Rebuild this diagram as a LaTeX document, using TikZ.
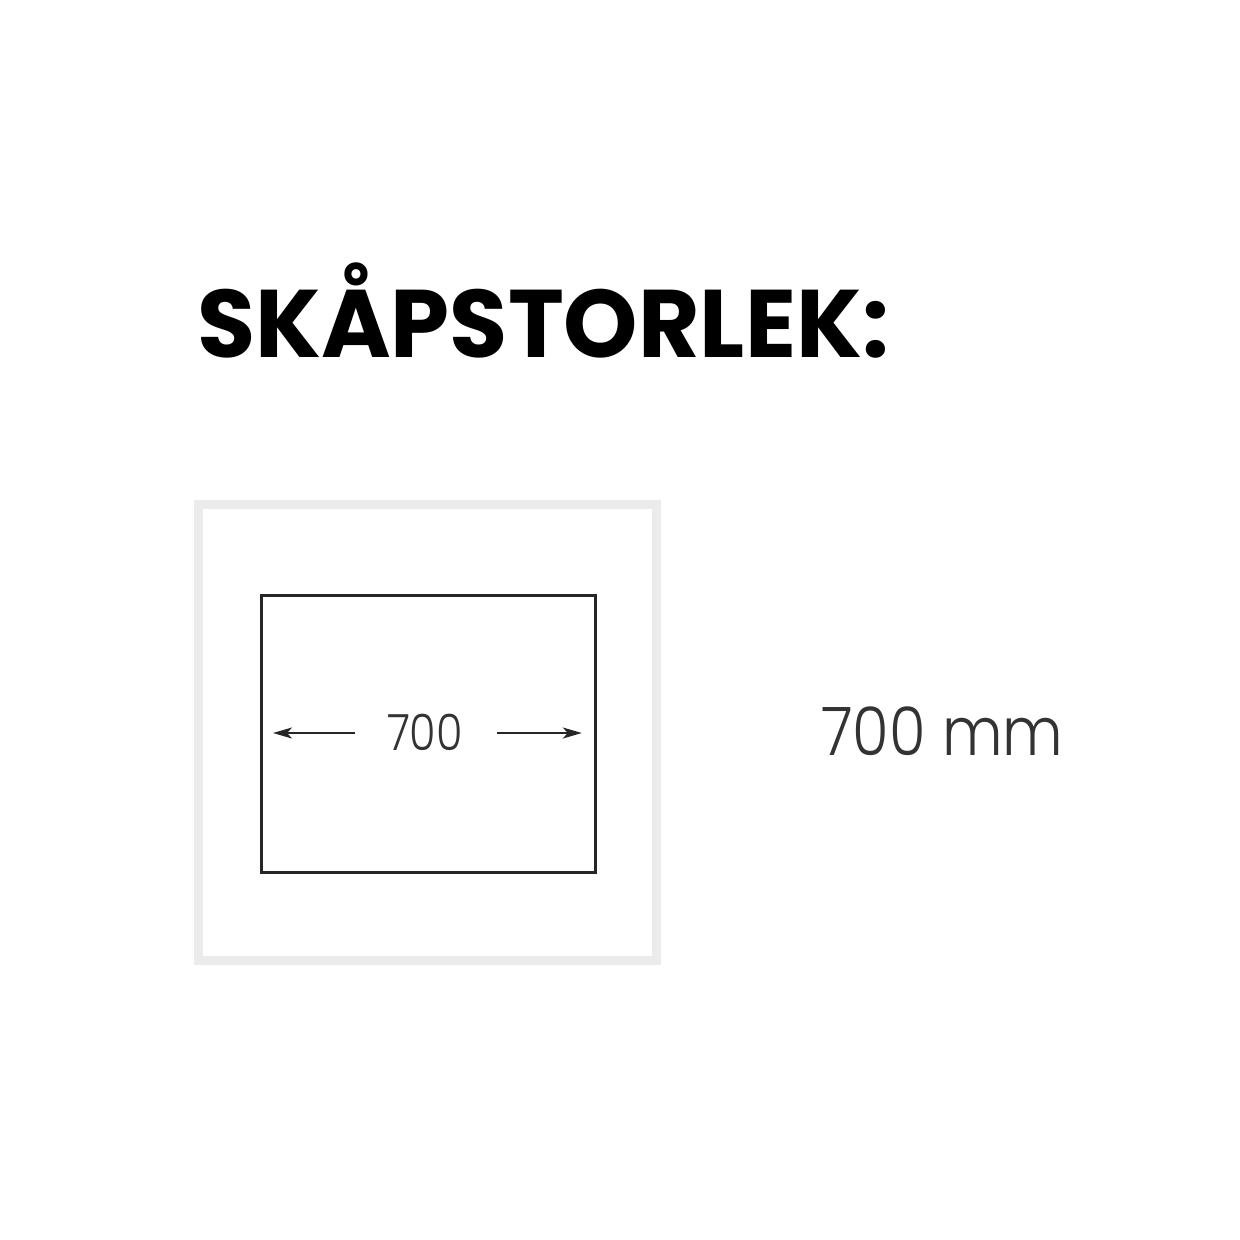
\documentclass[tikz,border=0pt]{standalone}
\usepackage{fontspec}
\setmainfont{Poppins}
\newfontfamily\titlefont[UprightFont=* Bold]{Poppins}
\newfontfamily\lightfont[UprightFont=* Light]{Poppins}
\usetikzlibrary{arrows.meta,calc}
\definecolor{framegray}{HTML}{EBEBEB}
\definecolor{txtgray}{HTML}{333333}
\tikzset{
  outerframe/.style={draw=framegray, line width=9pt},
  innerbox/.style={draw=black!85, line width=2.8pt},
  dimarrow/.style={draw=black!85, line width=2.2pt, -{Stealth[length=19pt,width=11pt,inset=5pt]}},
  label/.style={inner sep=0pt, text=txtgray}
}
\begin{document}
\begin{tikzpicture}[x=1pt,y=-1pt]
\useasboundingbox[fill=white] (0,0) rectangle (1240,1240);
\node[label, anchor=base west, text=black, font=\titlefont\fontsize{96}{96}\selectfont] (title) at (197,357) {\scalebox{0.985}[1]{SKÅPSTORLEK:}};
\draw[outerframe] (198,504) rectangle (656,960);
\node[innerbox, minimum width=334pt, minimum height=277pt, inner sep=0pt, anchor=north west] (box) at (260,594) {};
\node[label, anchor=base, font=\lightfont\fontsize{50}{50}\selectfont] (dim) at (425,750) {\scalebox{0.86}[1]{700}};
\coordinate (lstart) at (355,733);
\coordinate (rstart) at (497,733);
\coordinate (ltip) at ($(box.west |- lstart)+(13,0)$);
\coordinate (rtip) at ($(box.east |- rstart)+(-15,0)$);
\draw[dimarrow] (lstart) -- (ltip);
\draw[dimarrow] (rstart) -- (rtip);
\node[label, anchor=base west, font=\lightfont\fontsize{67}{67}\selectfont] (size) at (821,755) {\scalebox{0.885}[1]{700 mm}};
\end{tikzpicture}
\end{document}
